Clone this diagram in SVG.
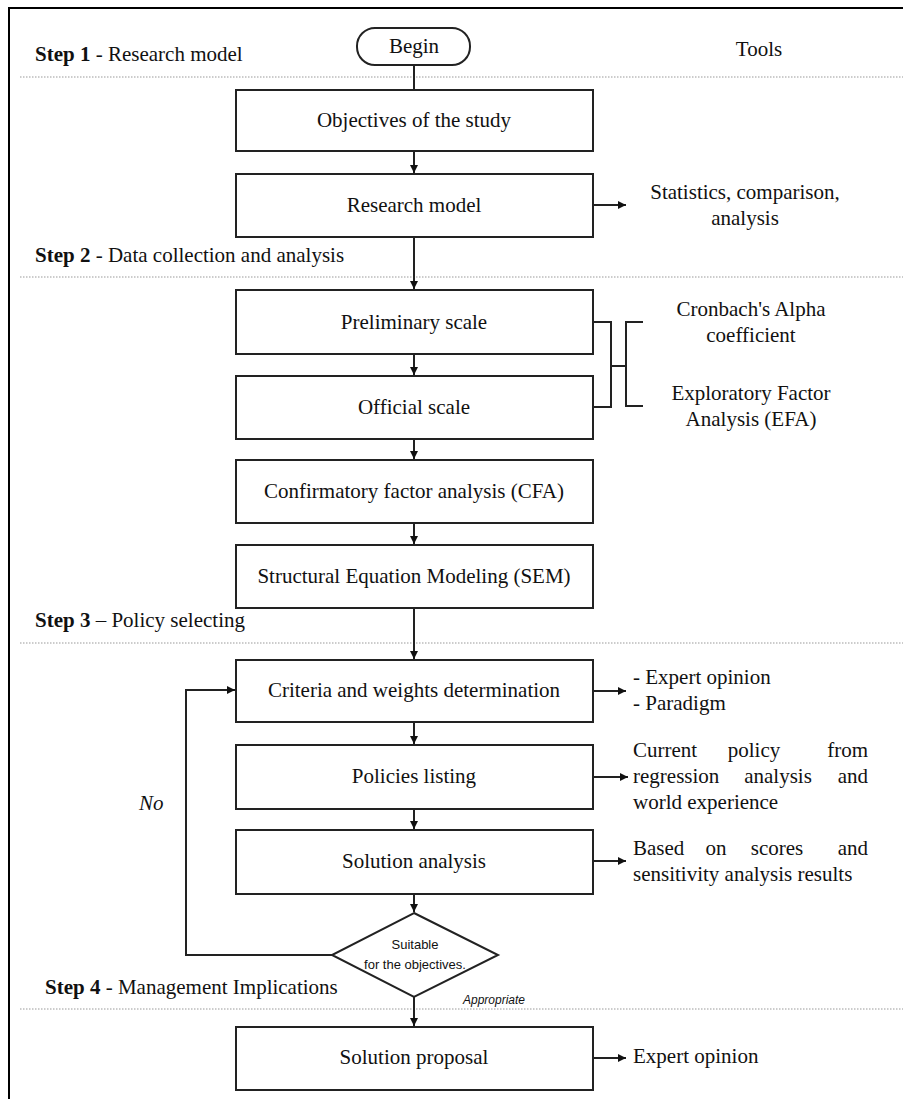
<svg xmlns="http://www.w3.org/2000/svg" width="903" height="1099" viewBox="0 0 903 1099">
<defs>
<marker id="ah" viewBox="0 0 10 10" refX="10" refY="5" markerWidth="8" markerHeight="8" orient="auto" markerUnits="userSpaceOnUse"><path d="M0,0 L10,5 L0,10 z" fill="#111"/></marker>
<style>
.t{font-family:"Liberation Serif","Times New Roman",serif;font-size:21px;fill:#111}
.b{font-weight:bold}
.c{text-anchor:middle}
.e{text-anchor:end}
.box{fill:#fff;stroke:#222;stroke-width:2}
.ln{fill:none;stroke:#222;stroke-width:2}
.dot{stroke:#999;stroke-width:1;stroke-dasharray:1.5,1.5}
.s{font-family:"Liberation Sans",Arial,sans-serif;font-size:13px;fill:#111;text-anchor:middle}
</style>
</defs>
<rect width="903" height="1099" fill="#fff"/>
<g id="frame">
<path d="M9,1099 V8 H903" fill="none" stroke="#000" stroke-width="2"/>
<line class="dot" x1="20" y1="77" x2="903" y2="77"/>
<line class="dot" x1="20" y1="277" x2="903" y2="277"/>
<line class="dot" x1="20" y1="643" x2="903" y2="643"/>
<line class="dot" x1="20" y1="1009" x2="903" y2="1009"/>
</g>
<g id="labels">
<text class="t" x="35" y="61"><tspan class="b">Step 1</tspan> - Research model</text>
<text class="t" x="35" y="262"><tspan class="b">Step 2</tspan> - Data collection and analysis</text>
<text class="t" x="35" y="627"><tspan class="b">Step 3</tspan> – Policy selecting</text>
<text class="t" x="45" y="994"><tspan class="b">Step 4</tspan> - Management Implications</text>
<text class="t c" x="759" y="56">Tools</text>
<text class="t" x="139" y="810" font-style="italic">No</text>
<text x="463" y="1004" font-family="Liberation Sans,Arial,sans-serif" font-size="12" font-style="italic" fill="#111">Appropriate</text>
</g>
<g id="connectors">
<line class="ln" x1="414" y1="65" x2="414" y2="90"/>
<line class="ln" x1="414" y1="151" x2="414" y2="173" marker-end="url(#ah)"/>
<line class="ln" x1="414" y1="237" x2="414" y2="289" marker-end="url(#ah)"/>
<line class="ln" x1="414" y1="354" x2="414" y2="375" marker-end="url(#ah)"/>
<line class="ln" x1="414" y1="439" x2="414" y2="459" marker-end="url(#ah)"/>
<line class="ln" x1="414" y1="523" x2="414" y2="544" marker-end="url(#ah)"/>
<line class="ln" x1="414" y1="608" x2="414" y2="659" marker-end="url(#ah)"/>
<line class="ln" x1="414" y1="722" x2="414" y2="744" marker-end="url(#ah)"/>
<line class="ln" x1="414" y1="809" x2="414" y2="829" marker-end="url(#ah)"/>
<line class="ln" x1="414" y1="894" x2="414" y2="912" marker-end="url(#ah)"/>
<line class="ln" x1="414" y1="997" x2="414" y2="1026" marker-end="url(#ah)"/>
<path class="ln" d="M332,955 H186 V690 H235" marker-end="url(#ah)"/>
<line class="ln" x1="594" y1="205" x2="626" y2="205" marker-end="url(#ah)"/>
<line class="ln" x1="594" y1="691" x2="626" y2="691" marker-end="url(#ah)"/>
<line class="ln" x1="594" y1="777" x2="628" y2="777" marker-end="url(#ah)"/>
<line class="ln" x1="594" y1="861" x2="626" y2="861" marker-end="url(#ah)"/>
<line class="ln" x1="594" y1="1058" x2="626" y2="1058" marker-end="url(#ah)"/>
<path class="ln" d="M593,322 H611 V407 H593 M611,366 H626 M643,322 H626 V406 H643"/>
</g>
<g id="begin"><rect class="box" x="357" y="28" width="113" height="37" rx="18"/><text class="t c" x="414" y="53">Begin</text></g>
<g id="objectives"><rect class="box" x="236" y="90" width="357" height="61"/><text class="t c" x="414" y="127">Objectives of the study</text></g>
<g id="research"><rect class="box" x="236" y="174" width="357" height="63"/><text class="t c" x="414" y="212">Research model</text></g>
<g id="preliminary"><rect class="box" x="236" y="290" width="357" height="64"/><text class="t c" x="414" y="329">Preliminary scale</text></g>
<g id="official"><rect class="box" x="236" y="376" width="357" height="63"/><text class="t c" x="414" y="414">Official scale</text></g>
<g id="cfa"><rect class="box" x="236" y="460" width="357" height="63"/><text class="t c" x="414" y="498">Confirmatory factor analysis (CFA)</text></g>
<g id="sem"><rect class="box" x="236" y="545" width="357" height="63"/><text class="t c" x="414" y="583">Structural Equation Modeling (SEM)</text></g>
<g id="criteria"><rect class="box" x="236" y="660" width="357" height="62"/><text class="t c" x="414" y="697">Criteria and weights determination</text></g>
<g id="policies"><rect class="box" x="236" y="745" width="357" height="64"/><text class="t c" x="414" y="783">Policies listing</text></g>
<g id="solution-analysis"><rect class="box" x="236" y="830" width="357" height="64"/><text class="t c" x="414" y="868">Solution analysis</text></g>
<g id="decision"><polygon class="box" points="414,913 498,955 414,997 332,955"/><text class="s" x="415" y="949">Suitable</text><text class="s" x="415" y="969">for the objectives.</text></g>
<g id="solution-proposal"><rect class="box" x="236" y="1027" width="357" height="63"/><text class="t c" x="414" y="1064">Solution proposal</text></g>
<g id="tools">
<text class="t c" x="745" y="199">Statistics, comparison,</text>
<text class="t c" x="745" y="225">analysis</text>
<text class="t c" x="751" y="316">Cronbach's Alpha</text>
<text class="t c" x="751" y="342">coefficient</text>
<text class="t c" x="751" y="400">Exploratory Factor</text>
<text class="t c" x="751" y="426">Analysis (EFA)</text>
<text class="t" x="633" y="684">- Expert opinion</text>
<text class="t" x="633" y="710">- Paradigm</text>
<text class="t" y="757"><tspan x="633">Current</tspan><tspan x="754" class="c">policy</tspan><tspan x="868" class="e">from</tspan></text>
<text class="t" y="783"><tspan x="633">regression</tspan><tspan x="778" class="c">analysis</tspan><tspan x="868" class="e">and</tspan></text>
<text class="t" x="633" y="809">world experience</text>
<text class="t" y="855"><tspan x="633">Based</tspan><tspan x="716" class="c">on</tspan><tspan x="777" class="c">scores</tspan><tspan x="868" class="e">and</tspan></text>
<text class="t" x="633" y="881">sensitivity analysis results</text>
<text class="t" x="633" y="1063">Expert opinion</text>
</g>
</svg>
